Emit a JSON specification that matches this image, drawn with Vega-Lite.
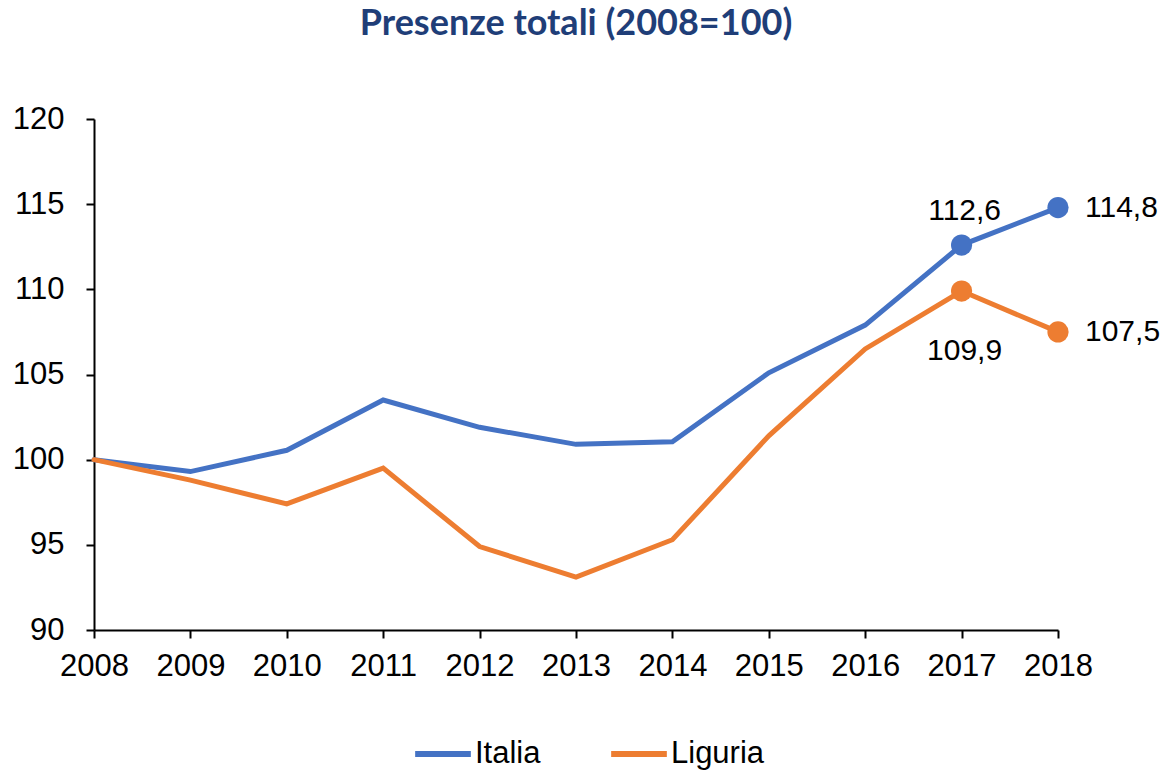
{
  "$schema": "https://vega.github.io/schema/vega-lite/v6.json",
  "autosize": "none",
  "width": 964,
  "height": 511,
  "padding": {"left": 94, "top": 119, "right": 111, "bottom": 141},
  "background": "white",
  "config": {
    "view": {"stroke": null},
    "locale": {"number": {"decimal": ",", "thousands": ".", "grouping": [3], "currency": ["€", ""]}},
    "font": "Liberation Sans"
  },
  "title": {
    "text": "Presenze totali (2008=100)",
    "font": "Lato",
    "fontSize": 36,
    "fontWeight": "bold",
    "color": "#1F3E78",
    "anchor": "middle",
    "offset": 60
  },
  "data": {
    "values": [
      {"year": 2008, "series": "Italia", "value": 100.0},
      {"year": 2009, "series": "Italia", "value": 99.3},
      {"year": 2010, "series": "Italia", "value": 100.55},
      {"year": 2011, "series": "Italia", "value": 103.5},
      {"year": 2012, "series": "Italia", "value": 101.9},
      {"year": 2013, "series": "Italia", "value": 100.9},
      {"year": 2014, "series": "Italia", "value": 101.05},
      {"year": 2015, "series": "Italia", "value": 105.1},
      {"year": 2016, "series": "Italia", "value": 107.9},
      {"year": 2017, "series": "Italia", "value": 112.6},
      {"year": 2018, "series": "Italia", "value": 114.8},
      {"year": 2008, "series": "Liguria", "value": 100.0},
      {"year": 2009, "series": "Liguria", "value": 98.8},
      {"year": 2010, "series": "Liguria", "value": 97.4},
      {"year": 2011, "series": "Liguria", "value": 99.5},
      {"year": 2012, "series": "Liguria", "value": 94.9},
      {"year": 2013, "series": "Liguria", "value": 93.1},
      {"year": 2014, "series": "Liguria", "value": 95.3},
      {"year": 2015, "series": "Liguria", "value": 101.4},
      {"year": 2016, "series": "Liguria", "value": 106.5},
      {"year": 2017, "series": "Liguria", "value": 109.9},
      {"year": 2018, "series": "Liguria", "value": 107.5}
    ]
  },
  "encoding": {
    "x": {
      "field": "year",
      "type": "quantitative",
      "scale": {"domain": [2008, 2018], "nice": false, "zero": false},
      "axis": {
        "title": null,
        "values": [2008, 2009, 2010, 2011, 2012, 2013, 2014, 2015, 2016, 2017, 2018],
        "format": "d",
        "grid": false,
        "domainColor": "#000000",
        "domainWidth": 2,
        "tickColor": "#000000",
        "tickWidth": 2,
        "tickSize": 8,
        "labelFont": "Liberation Sans",
        "labelFontSize": 31,
        "labelColor": "#000000",
        "labelPadding": 13,
        "labelFlush": false,
        "labelOverlap": false
      }
    },
    "y": {
      "field": "value",
      "type": "quantitative",
      "scale": {"domain": [90, 120], "nice": false, "zero": false},
      "axis": {
        "title": null,
        "values": [90, 95, 100, 105, 110, 115, 120],
        "grid": false,
        "domainColor": "#000000",
        "domainWidth": 2,
        "tickColor": "#000000",
        "tickWidth": 2,
        "tickSize": 8,
        "labelFont": "Liberation Sans",
        "labelFontSize": 31,
        "labelColor": "#000000",
        "labelPadding": 22,
        "labelFlush": false,
        "labelOverlap": false
      }
    },
    "color": {
      "field": "series",
      "type": "nominal",
      "scale": {"domain": ["Italia", "Liguria"], "range": ["#4472C4", "#ED7D31"]},
      "legend": {
        "title": null,
        "orient": "none",
        "direction": "horizontal",
        "legendX": 318,
        "legendY": 604,
        "symbolType": "stroke",
        "symbolSize": 3100,
        "symbolStrokeWidth": 6,
        "labelFont": "Liberation Sans",
        "labelFontSize": 31,
        "labelColor": "#000000",
        "labelOffset": 1,
        "columnPadding": 58
      }
    }
  },
  "layer": [
    {
      "mark": {"type": "line", "strokeWidth": 5, "strokeCap": "round"}
    },
    {
      "transform": [{"filter": "datum.year >= 2017"}],
      "mark": {"type": "point", "filled": true, "opacity": 1, "size": 450},
      "encoding": {"shape": {"value": "circle"}}
    },
    {
      "transform": [{"filter": "datum.year == 2018"}],
      "mark": {"type": "text", "align": "left", "baseline": "middle", "dx": 27, "fontSize": 30, "font": "Liberation Sans"},
      "encoding": {"text": {"field": "value", "type": "quantitative", "format": ".1f"}, "color": {"value": "#000000"}}
    },
    {
      "transform": [{"filter": "datum.year == 2017 && datum.series == 'Italia'"}],
      "mark": {"type": "text", "align": "center", "baseline": "middle", "dx": 3, "dy": -34, "fontSize": 30, "font": "Liberation Sans"},
      "encoding": {"text": {"field": "value", "type": "quantitative", "format": ".1f"}, "color": {"value": "#000000"}}
    },
    {
      "transform": [{"filter": "datum.year == 2017 && datum.series == 'Liguria'"}],
      "mark": {"type": "text", "align": "center", "baseline": "middle", "dx": 3, "dy": 60, "fontSize": 30, "font": "Liberation Sans"},
      "encoding": {"text": {"field": "value", "type": "quantitative", "format": ".1f"}, "color": {"value": "#000000"}}
    }
  ]
}
